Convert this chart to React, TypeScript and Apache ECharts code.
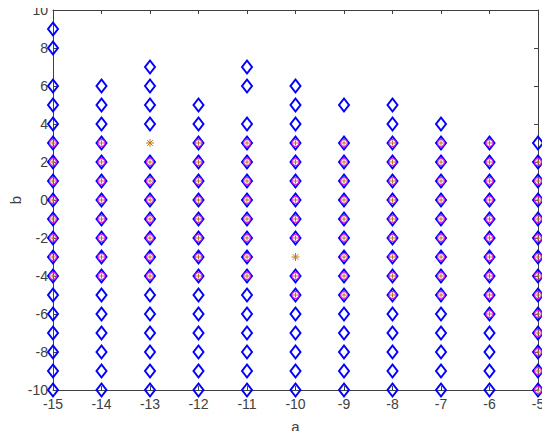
import React, { useEffect, useRef } from "react";
import * as echarts from "echarts";

// a-values of the columns
const aValues = [-15, -14, -13, -12, -11, -10, -9, -8, -7, -6, -5];

// b-values of the blue diamonds, one list per column
const diamondB: number[][] = [
  [9, 8, 6, 5, 4, 3, 2, 1, 0, -1, -2, -3, -4, -5, -6, -7, -8, -9, -10],
  [6, 5, 4, 3, 2, 1, 0, -1, -2, -3, -4, -5, -6, -7, -8, -9, -10],
  [7, 6, 5, 4, 2, 1, 0, -1, -2, -3, -4, -5, -6, -7, -8, -9, -10],
  [5, 4, 3, 2, 1, 0, -1, -2, -3, -4, -5, -6, -7, -8, -9, -10],
  [7, 6, 4, 3, 2, 1, 0, -1, -2, -3, -4, -5, -6, -7, -8, -9, -10],
  [6, 5, 4, 3, 2, 1, 0, -1, -2, -4, -5, -6, -7, -8, -9, -10],
  [5, 3, 2, 1, 0, -1, -2, -3, -4, -5, -6, -7, -8, -9, -10],
  [5, 4, 3, 2, 1, 0, -1, -2, -3, -4, -5, -6, -7, -8, -9, -10],
  [4, 3, 2, 1, 0, -1, -2, -3, -4, -5, -6, -7, -8, -9, -10],
  [3, 2, 1, 0, -1, -2, -3, -4, -5, -6, -7, -8, -9, -10],
  [3, 2, 1, 0, -1, -2, -3, -4, -5, -6, -7, -8, -9, -10],
];

// b-values of the magenta circles (with orange plus), one list per column
const circleB: number[][] = [
  [3, 2, 1, 0, -1, -2, -3, -4],
  [3, 2, 1, 0, -1, -2, -3, -4],
  [2, 1, 0, -1, -2, -3, -4],
  [3, 2, 1, 0, -1, -2, -3, -4],
  [3, 2, 1, 0, -1, -2, -3, -4],
  [3, 2, 1, 0, -1, -2, -4, -5],
  [3, 2, 1, 0, -1, -2, -3, -4, -5],
  [3, 2, 1, 0, -1, -2, -3, -4, -5],
  [3, 2, 1, 0, -1, -2, -3, -4, -5],
  [3, 2, 1, 0, -1, -2, -3, -4, -5, -6],
  [2, 1, 0, -1, -2, -3, -4, -5, -6, -7, -8, -9, -10],
];

// asterisk points [a, b]
const starPoints: number[][] = [
  [-13, 3],
  [-10, -3],
];

const xTicks = [-15, -14, -13, -12, -11, -10, -9, -8, -7, -6, -5];
const yTicks = [-10, -8, -6, -4, -2, 0, 2, 4, 6, 8, 10];

const toPairs = (lists: number[][]) =>
  lists.flatMap((bs, i) => bs.map((b) => [aValues[i], b]));

const PLUS = "path://M0,-5L0,5M-5,0L5,0";
const STAR =
  "path://M0,-5L0,5M-5,0L5,0M-3.54,-3.54L3.54,3.54M-3.54,3.54L3.54,-3.54";

export default function App() {
  const ref = useRef<HTMLDivElement>(null);
  useEffect(() => {
    if (!ref.current) return;
    const chart = echarts.init(ref.current, undefined, { renderer: "svg" });
    const axisColor = "#404040";
    const labelStyle = {
      color: axisColor,
      fontSize: 14,
      fontFamily: "Liberation Sans, Arial, sans-serif",
    };
    const baseX = {
      type: "value" as const,
      min: xTicks[0],
      max: xTicks[xTicks.length - 1],
      interval: 1,
      splitLine: { show: false },
      axisLine: { show: true, onZero: false, lineStyle: { color: axisColor, width: 1 } },
      axisTick: { show: true, inside: true, length: 4, lineStyle: { color: axisColor } },
    };
    const baseY = {
      type: "value" as const,
      min: yTicks[0],
      max: yTicks[yTicks.length - 1],
      interval: 2,
      splitLine: { show: false },
      axisLine: { show: true, onZero: false, lineStyle: { color: axisColor, width: 1 } },
      axisTick: { show: true, inside: true, length: 4, lineStyle: { color: axisColor } },
    };
    chart.setOption({
      animation: false,
      backgroundColor: "#ffffff",
      grid: { left: 53, right: 12, top: 10, bottom: 49, outerBoundsMode: "none", containLabel: false },
      xAxis: [
        {
          ...baseX,
          position: "bottom",
          axisLabel: { ...labelStyle, margin: 7 },
          name: "a",
          nameLocation: "middle",
          nameGap: 29,
          nameMoveOverlap: false,
          nameTextStyle: { ...labelStyle, fontSize: 15 },
        },
        { ...baseX, position: "top", axisLabel: { show: false } },
      ],
      yAxis: [
        {
          ...baseY,
          position: "left",
          axisLabel: { ...labelStyle, margin: 5 },
          name: "b",
          nameLocation: "middle",
          nameGap: 30,
          nameRotate: 90,
          nameMoveOverlap: false,
          nameTextStyle: { ...labelStyle, fontSize: 15 },
        },
        { ...baseY, position: "right", axisLabel: { show: false } },
      ],
      series: [
        {
          type: "scatter",
          clip: false,
          symbol: "diamond",
          symbolSize: [10, 13],
          data: toPairs(diamondB),
          itemStyle: { color: "rgba(0,0,0,0)", borderColor: "#0000ff", borderWidth: 2, opacity: 1 },
          z: 2,
        },
        {
          type: "scatter",
          clip: false,
          symbol: "circle",
          symbolSize: 7,
          data: toPairs(circleB),
          itemStyle: { color: "rgba(0,0,0,0)", borderColor: "#e020e0", borderWidth: 1.2, opacity: 1 },
          z: 3,
        },
        {
          type: "scatter",
          clip: false,
          symbol: PLUS,
          symbolSize: 5,
          symbolKeepAspect: true,
          data: toPairs(circleB),
          itemStyle: { color: "rgba(0,0,0,0)", borderColor: "#b87820", borderWidth: 1, opacity: 1 },
          z: 4,
        },
        {
          type: "scatter",
          clip: false,
          symbol: STAR,
          symbolSize: 8,
          symbolKeepAspect: true,
          data: starPoints,
          itemStyle: { color: "rgba(0,0,0,0)", borderColor: "#c07820", borderWidth: 1, opacity: 1 },
          z: 4,
        },
      ],
    });
    return () => chart.dispose();
  }, []);
  return <div ref={ref} style={{ width: 550, height: 439, margin: -8 }} />;
}
